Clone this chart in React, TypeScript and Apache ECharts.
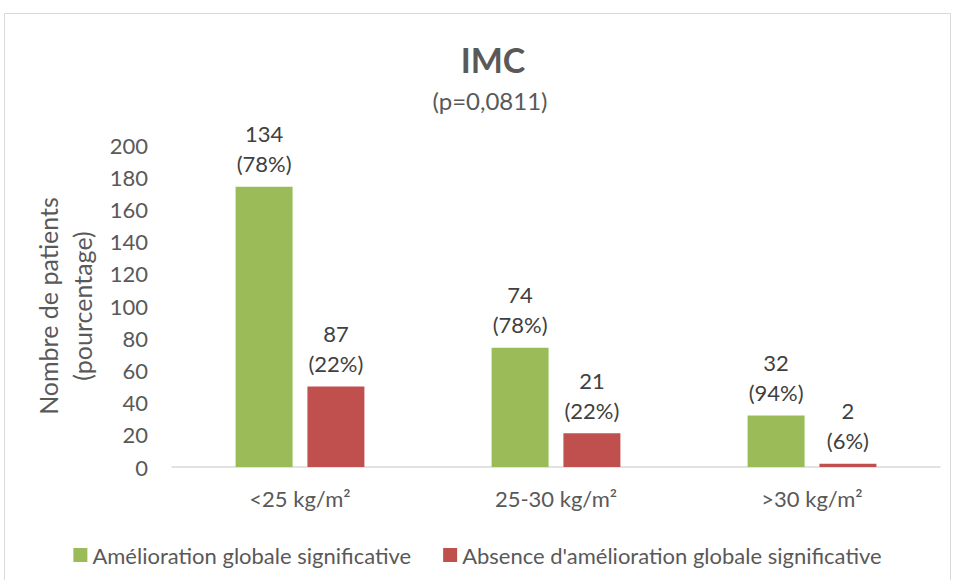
import React, { useEffect, useRef } from "react";
import * as echarts from "echarts";

const categories = ["<25 kg/m²", "25-30 kg/m²", ">30 kg/m²"];
const seriesNames = [
  "Amélioration globale significative",
  "Absence d'amélioration globale significative",
];
// bar heights as drawn in the picture
const greenValues = [174, 74, 32];
const redValues = [50, 21, 2];
// label texts shown above the bars
const greenLabels = ["134\n(78%)", "74\n(78%)", "32\n(94%)"];
const redLabels = ["87\n(22%)", "21\n(22%)", "2\n(6%)"];
const yTicks = [0, 20, 40, 60, 80, 100, 120, 140, 160, 180, 200];

const FONT = "Lato, 'Open Sans', sans-serif";

export default function App() {
  const ref = useRef<HTMLDivElement>(null);
  useEffect(() => {
    if (!ref.current) return;
    const chart = echarts.init(ref.current, undefined, { renderer: "svg" });
    const labelStyle = {
      show: true,
      position: "top" as const,
      distance: 8,
      fontSize: 22,
      lineHeight: 30,
      color: "#404040",
      fontFamily: FONT,
    };
    chart.setOption({
      animation: false,
      backgroundColor: "#ffffff",
      textStyle: { fontFamily: FONT },
      title: [
        {
          text: "IMC",
          left: 488,
          textAlign: "center",
          top: 37,
          textStyle: { fontSize: 34, fontWeight: "bold", color: "#595959", fontFamily: FONT },
        },
        {
          text: "(p=0,0811)",
          left: 485,
          textAlign: "center",
          top: 83,
          textStyle: { fontSize: 24, fontWeight: "normal", color: "#595959", fontFamily: FONT },
        },
      ],
      graphic: [
        {
          type: "rect",
          shape: { x: 4.5, y: 13.5, width: 946, height: 600 },
          style: { fill: "none", stroke: "#D9D9D9", lineWidth: 1 },
          silent: true,
        },
      ],
      legend: {
        top: 539,
        left: "center",
        itemWidth: 14,
        itemHeight: 14,
        itemGap: 32,
        icon: "rect",
        textStyle: { fontSize: 22, color: "#595959", fontFamily: FONT },
        data: seriesNames,
      },
      grid: { left: 172, right: 15, top: 145, bottom: 113, containLabel: false },
      xAxis: {
        type: "category",
        data: categories,
        axisLine: { lineStyle: { color: "#D9D9D9", width: 1.5 } },
        axisTick: { show: false },
        axisLabel: { fontSize: 22, color: "#595959", margin: 20, fontFamily: FONT },
      },
      yAxis: {
        type: "value",
        min: yTicks[0],
        max: yTicks[yTicks.length - 1],
        interval: 20,
        name: "Nombre de patients\n(pourcentage)",
        nameLocation: "middle",
        nameGap: 57,
        nameRotate: 90,
        nameTextStyle: { fontSize: 25, color: "#595959", lineHeight: 34, fontFamily: FONT },
        axisLine: { show: false },
        axisTick: { show: false },
        splitLine: { show: false },
        axisLabel: { fontSize: 22, color: "#595959", margin: 24, fontFamily: FONT },
      },
      series: [
        {
          name: seriesNames[0],
          type: "bar",
          data: greenValues,
          barWidth: 57,
          barGap: "26%",
          itemStyle: { color: "#9BBB59" },
          label: { ...labelStyle, formatter: (p: any) => greenLabels[p.dataIndex] },
        },
        {
          name: seriesNames[1],
          type: "bar",
          data: redValues,
          barWidth: 57,
          barGap: "26%",
          itemStyle: { color: "#C0504D" },
          label: { ...labelStyle, formatter: (p: any) => redLabels[p.dataIndex] },
        },
      ],
    });
    return () => chart.dispose();
  }, []);
  return (
    <div
      ref={ref}
      style={{ position: "absolute", left: 0, top: 0, width: 955, height: 580 }}
    />
  );
}
